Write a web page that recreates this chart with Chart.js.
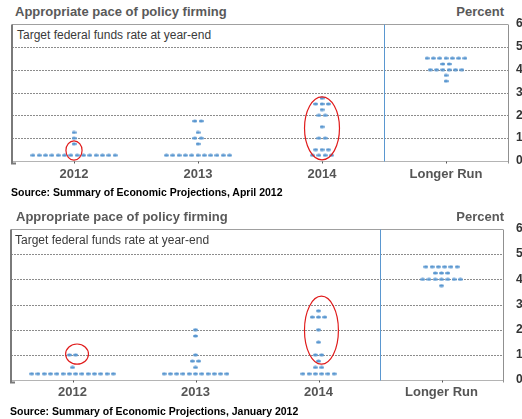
<!DOCTYPE html>
<html>
<head>
<meta charset="utf-8">
<script src="https://cdn.jsdelivr.net/npm/chart.js@4.4.0/dist/chart.umd.min.js"></script>
<style>
html, body { margin: 0; padding: 0; background: #fff; overflow: hidden; }
body { width: 522px; height: 419px; position: relative; font-family: "Liberation Sans", Arial, sans-serif; }
canvas { position: absolute; left: 0; }
.t { position: absolute; white-space: nowrap; }
.title { font-weight: bold; font-size: 13px; line-height: 13px; color: #595959; }
.inner { font-size: 12px; line-height: 12px; color: #3a3a3a; }
.src { font-weight: bold; font-size: 10.5px; line-height: 11px; color: #000; }
</style>
</head>
<body>
<div class="t title" style="left:15px;top:5px;">Appropriate pace of policy firming</div>
<div class="t title" style="right:18px;top:5px;">Percent</div>
<div class="t inner" style="left:17px;top:29px;">Target federal funds rate at year-end</div>
<canvas id="aprChart" width="522" height="200" style="top:0px"></canvas>
<div class="t src" style="left:11px;top:187px;">Source: Summary of Economic Projections, April 2012</div>

<div class="t title" style="left:16px;top:210px;">Appropriate pace of policy firming</div>
<div class="t title" style="right:18px;top:210px;">Percent</div>
<div class="t inner" style="left:15px;top:234px;">Target federal funds rate at year-end</div>
<canvas id="janChart" width="522" height="219" style="top:200px"></canvas>
<div class="t src" style="left:10px;top:406px;">Source: Summary of Economic Projections, January 2012</div>

<script>
// categories and y ticks
const categories = ['2012', '2013', '2014', 'Longer Run'];
const yTicks = [0, 1, 2, 3, 4, 5, 6];

// April 2012 SEP: rate levels per category, and how many participants at each
const aprilLevels = [
    [0.25, 0.75, 1.0, 1.25],
    [0.25, 0.75, 1.0, 1.25, 1.75],
    [0.25, 0.5, 1.0, 1.5, 2.0, 2.25, 2.5, 2.75],
    [3.5, 3.75, 4.0, 4.25, 4.5]
];
const aprilCounts = [
    [14, 1, 1, 1],
    [11, 1, 2, 1, 2],
    [4, 3, 2, 1, 2, 1, 3, 1],
    [1, 1, 6, 2, 7]
];

// January 2012 SEP
const januaryLevels = [
    [0.25, 0.5, 1.0],
    [0.25, 0.5, 0.75, 1.0, 1.75, 2.0],
    [0.25, 0.5, 0.75, 1.0, 1.5, 2.0, 2.5, 2.75],
    [3.75, 4.0, 4.25, 4.5]
];
const januaryCounts = [
    [14, 1, 2],
    [11, 1, 2, 1, 1, 1],
    [6, 2, 1, 2, 1, 1, 3, 1],
    [1, 7, 3, 6]
];

// red rings: [category x, rate y, half width (categories), half height (percent)]
const aprilRings = [[0, 0.46, 0.065, 0.42], [2, 1.43, 0.141, 1.38]];
const januaryRings = [[0.037, 1.03, 0.093, 0.40], [2.024, 1.98, 0.138, 1.35]];

const dotStep = 0.051; // side-by-side spacing of equal projections
const dotColor = '#5a97d0';
const Chart = window.Chart;

// little flat ellipse used for each dot
const dotImg = document.createElement('canvas');
dotImg.width = 5;
dotImg.height = 4;
(function () {
    const c = dotImg.getContext('2d');
    c.fillStyle = dotColor;
    c.beginPath();
    c.ellipse(2.5, 2, 2.5, 1.6, 0, 0, Math.PI * 2);
    c.fill();
})();

function framePlugin(rings) {
    return {
        id: 'frame',
        beforeDatasetsDraw(chart) {
            const { ctx, chartArea: a, scales: { x, y } } = chart;
            ctx.save();
            ctx.lineWidth = 1;
            // dashed gridlines
            ctx.strokeStyle = '#8c8c8c';
            ctx.setLineDash([2, 1]);
            yTicks.slice(1, -1).forEach(v => {
                const py = Math.round(y.getPixelForValue(v)) + 0.5;
                ctx.beginPath();
                ctx.moveTo(a.left, py);
                ctx.lineTo(a.right, py);
                ctx.stroke();
            });
            ctx.setLineDash([]);
            // zero line
            const y0 = Math.round(y.getPixelForValue(0)) + 0.5;
            ctx.strokeStyle = '#b4b4b4';
            ctx.beginPath();
            ctx.moveTo(a.left, y0);
            ctx.lineTo(a.right, y0);
            ctx.stroke();
            // top line
            const yt = Math.round(a.top) + 0.5;
            ctx.strokeStyle = '#a0a0a0';
            ctx.beginPath();
            ctx.moveTo(a.left, yt);
            ctx.lineTo(a.right, yt);
            ctx.stroke();
            // right axis
            ctx.strokeStyle = '#909090';
            ctx.beginPath();
            ctx.moveTo(Math.round(a.right) + 0.5, yt);
            ctx.lineTo(Math.round(a.right) + 0.5, y0 + 2);
            ctx.stroke();
            // left edge, heavier
            ctx.strokeStyle = '#7a7a7a';
            ctx.lineWidth = 2;
            ctx.beginPath();
            ctx.moveTo(a.left, yt);
            ctx.lineTo(a.left, y0 + 2);
            ctx.lineTo(a.left + 4, y0 + 2);
            ctx.stroke();
            // separator before the longer run
            ctx.lineWidth = 1;
            ctx.strokeStyle = dotColor;
            const xs = Math.round(x.getPixelForValue(2.5)) + 0.5;
            ctx.beginPath();
            ctx.moveTo(xs, yt);
            ctx.lineTo(xs, y0);
            ctx.stroke();
            // tiny tick marks under each year
            ctx.strokeStyle = '#555';
            categories.forEach((_, i) => {
                const px = Math.round(x.getPixelForValue(i)) + 0.5;
                ctx.beginPath();
                ctx.moveTo(px, y0);
                ctx.lineTo(px, y0 + 2);
                ctx.stroke();
            });
            ctx.restore();
        },
        afterDatasetsDraw(chart) {
            const { ctx, scales: { x, y } } = chart;
            ctx.save();
            ctx.strokeStyle = '#e01b1b';
            ctx.lineWidth = 1.2;
            rings.forEach(([cx, cy, rx, ry]) => {
                const px = x.getPixelForValue(cx);
                const py = y.getPixelForValue(cy);
                const w = x.getPixelForValue(cx + rx) - px;
                const h = py - y.getPixelForValue(cy + ry);
                ctx.beginPath();
                ctx.ellipse(px, py, w, h, 0, 0, Math.PI * 2);
                ctx.stroke();
            });
            ctx.restore();
        }
    };
}

function buildPanel(id, levels, counts, rings, geo) {
    const pts = [];
    levels.forEach((lv, c) => {
        lv.forEach((rate, k) => {
            const n = counts[c][k];
            for (let j = 0; j < n; j++) {
                pts.push({ x: c + (j - (n - 1) / 2) * dotStep, y: rate });
            }
        });
    });
    const tickFont = { family: '"Liberation Sans", Arial, sans-serif', size: 13, weight: 'bold' };
    return new Chart(document.getElementById(id), {
        type: 'scatter',
        data: {
            datasets: [{
                data: pts,
                pointStyle: dotImg,
                pointRadius: 3,
                pointHoverRadius: 3
            }]
        },
        options: {
            responsive: false,
            animation: false,
            events: [],
            layout: { padding: { top: geo.top, left: geo.left, right: 0, bottom: 0 } },
            plugins: { legend: { display: false }, tooltip: { enabled: false } },
            scales: {
                x: {
                    type: 'linear',
                    min: -0.5,
                    max: 3.5,
                    grid: { display: false, drawTicks: false },
                    border: { display: false },
                    afterBuildTicks: s => { s.ticks = categories.map((_, i) => ({ value: i })); },
                    afterFit: s => { s.height = geo.xh; },
                    ticks: {
                        callback: v => categories[v],
                        font: tickFont,
                        color: '#555',
                        padding: geo.xpad,
                        maxRotation: 0,
                        autoSkip: false
                    }
                },
                y: {
                    position: 'right',
                    min: 0,
                    max: 6,
                    grid: { display: false, drawTicks: false },
                    border: { display: false },
                    afterBuildTicks: s => { s.ticks = yTicks.map(v => ({ value: v })); },
                    afterFit: s => { s.width = geo.yw; },
                    ticks: {
                        font: { family: '"Liberation Sans", Arial, sans-serif', size: 12, weight: 'bold' },
                        color: '#333',
                        padding: geo.ypad,
                        autoSkip: false
                    }
                }
            }
        },
        plugins: [framePlugin(rings)]
    });
}

if (Chart) {
    buildPanel('aprChart', aprilLevels, aprilCounts, aprilRings,
        { top: 24, left: 12, xh: 39, xpad: 6, yw: 14, ypad: 8 });
    buildPanel('janChart', januaryLevels, januaryCounts, januaryRings,
        { top: 29, left: 11, xh: 39, xpad: 5, yw: 19, ypad: 13 });
} else {
    console.error('Chart.js not loaded');
}
</script>
</body>
</html>
